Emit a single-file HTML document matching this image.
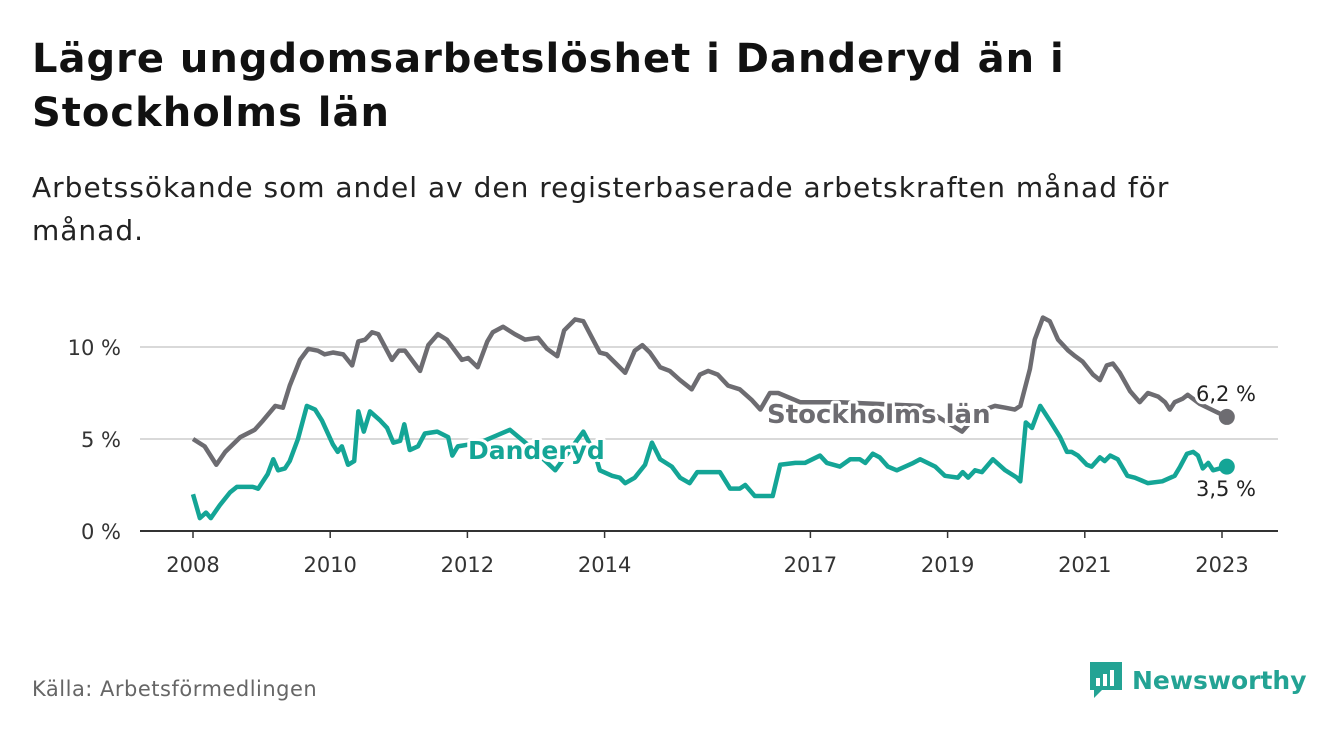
<!DOCTYPE html>
<html><head><meta charset="utf-8"><style>
body{margin:0;width:1340px;height:734px;background:#fff;font-family:"DejaVu Sans","Liberation Sans",sans-serif;overflow:hidden;position:relative}
.t{position:absolute;left:32px;top:32px;font-size:40px;font-weight:bold;line-height:54px;color:#111;letter-spacing:1px}
.s{position:absolute;left:32px;top:166px;font-size:28px;line-height:43px;color:#222;letter-spacing:1px}
.src{position:absolute;left:32px;top:677px;font-size:21px;color:#666;letter-spacing:0.5px}
.logo{position:absolute;left:1088px;top:660px;display:flex;align-items:center;gap:8px;color:#23a394;font-size:25px;font-weight:bold}
</style></head><body>
<div class="t">Lägre ungdomsarbetslöshet i Danderyd än i<br>Stockholms län</div>
<div class="s">Arbetssökande som andel av den registerbaserade arbetskraften månad för<br>månad.</div>
<svg id="c" width="1340" height="734" style="position:absolute;left:0;top:0"></svg>
<div class="src">Källa: Arbetsförmedlingen</div>
<div class="logo"><svg width="36" height="40"><path d="M2 2h32v28H14l-8 8v-8H2z" fill="#23a394"/><rect x="8" y="18" width="4" height="8" fill="#fff"/><rect x="15" y="14" width="4" height="12" fill="#fff"/><rect x="22" y="10" width="4" height="16" fill="#fff"/></svg><span>Newsworthy</span></div>
<script>
const yTicks=[0,5,10];
const yTickLabels=["0 %","5 %","10 %"];
const xTicks=[2008,2010,2012,2014,2017,2019,2021,2023];
const stoDates=[2008.00,2008.17,2008.34,2008.47,2008.69,2008.90,2009.02,2009.20,2009.31,2009.41,2009.56,2009.68,2009.82,2009.92,2010.04,2010.19,2010.32,2010.41,2010.51,2010.61,2010.70,2010.90,2011.00,2011.09,2011.31,2011.43,2011.57,2011.70,2011.82,2011.92,2012.01,2012.15,2012.29,2012.37,2012.52,2012.69,2012.84,2013.03,2013.16,2013.31,2013.41,2013.57,2013.69,2013.93,2014.03,2014.30,2014.44,2014.55,2014.66,2014.81,2014.95,2015.10,2015.27,2015.39,2015.51,2015.65,2015.80,2015.97,2016.15,2016.27,2016.41,2016.53,2016.85,2017.43,2018.01,2018.60,2019.21,2019.47,2019.69,2019.84,2019.98,2020.06,2020.20,2020.27,2020.39,2020.49,2020.61,2020.76,2020.86,2020.97,2021.12,2021.22,2021.32,2021.41,2021.51,2021.66,2021.80,2021.92,2022.07,2022.17,2022.24,2022.31,2022.43,2022.50,2022.68,2022.90,2023.07];
const stoValues=[5.0,4.6,3.6,4.3,5.1,5.5,6.0,6.8,6.7,7.9,9.3,9.9,9.8,9.6,9.7,9.6,9.0,10.3,10.4,10.8,10.7,9.3,9.8,9.8,8.7,10.1,10.7,10.4,9.8,9.3,9.4,8.9,10.3,10.8,11.1,10.7,10.4,10.5,9.9,9.5,10.9,11.5,11.4,9.7,9.6,8.6,9.8,10.1,9.7,8.9,8.7,8.2,7.7,8.5,8.7,8.5,7.9,7.7,7.1,6.6,7.5,7.5,7.0,7.0,6.9,6.8,5.4,6.5,6.8,6.7,6.6,6.8,8.8,10.4,11.6,11.4,10.4,9.8,9.5,9.2,8.5,8.2,9.0,9.1,8.6,7.6,7.0,7.5,7.3,7.0,6.6,7.0,7.2,7.4,6.9,6.5,6.2];
const danDates=[2008.00,2008.10,2008.19,2008.26,2008.39,2008.54,2008.64,2008.87,2008.95,2009.09,2009.17,2009.24,2009.34,2009.41,2009.53,2009.66,2009.78,2009.88,2010.04,2010.11,2010.17,2010.26,2010.35,2010.41,2010.49,2010.58,2010.73,2010.83,2010.92,2011.02,2011.08,2011.16,2011.28,2011.38,2011.56,2011.72,2011.78,2011.86,2012.18,2012.62,2012.91,2013.28,2013.69,2013.86,2013.93,2014.11,2014.22,2014.30,2014.44,2014.59,2014.69,2014.81,2014.98,2015.10,2015.24,2015.35,2015.68,2015.83,2015.97,2016.05,2016.19,2016.45,2016.56,2016.78,2016.92,2017.14,2017.24,2017.43,2017.58,2017.72,2017.80,2017.91,2018.01,2018.13,2018.26,2018.50,2018.60,2018.82,2018.96,2019.15,2019.22,2019.30,2019.40,2019.50,2019.66,2019.84,2020.01,2020.06,2020.14,2020.23,2020.35,2020.49,2020.64,2020.74,2020.81,2020.90,2021.03,2021.10,2021.22,2021.29,2021.37,2021.48,2021.62,2021.73,2021.92,2022.13,2022.31,2022.39,2022.49,2022.58,2022.65,2022.72,2022.80,2022.87,2023.07];
const danValues=[2.0,0.7,1.0,0.7,1.4,2.1,2.4,2.4,2.3,3.1,3.9,3.3,3.4,3.8,5.0,6.8,6.6,6.0,4.7,4.3,4.6,3.6,3.8,6.5,5.4,6.5,6.0,5.6,4.8,4.9,5.8,4.4,4.6,5.3,5.4,5.1,4.1,4.6,4.8,5.5,4.6,3.3,5.4,4.2,3.3,3.0,2.9,2.6,2.9,3.6,4.8,3.9,3.5,2.9,2.6,3.2,3.2,2.3,2.3,2.5,1.9,1.9,3.6,3.7,3.7,4.1,3.7,3.5,3.9,3.9,3.7,4.2,4.0,3.5,3.3,3.7,3.9,3.5,3.0,2.9,3.2,2.9,3.3,3.2,3.9,3.3,2.9,2.7,5.9,5.6,6.8,6.0,5.1,4.3,4.3,4.1,3.6,3.5,4.0,3.8,4.1,3.9,3.0,2.9,2.6,2.7,3.0,3.5,4.2,4.3,4.1,3.4,3.7,3.3,3.5];
const NS="http://www.w3.org/2000/svg",svg=document.getElementById('c');
const X=d=>193+(d-2008)*68.6, Y=v=>531-v*18.4;
function mk(t,a){const e=document.createElementNS(NS,t);for(const k in a)e.setAttribute(k,a[k]);svg.appendChild(e);return e;}
yTicks.forEach((v,i)=>{
 const g=mk('line',{x1:140,x2:1278,y1:Y(v),y2:Y(v),stroke:v?'#d9d9d9':'#333','stroke-width':2});
 
 
 const t=mk('text',{x:121,y:Y(v)+8,'text-anchor':'end','font-size':21,fill:'#333'});t.textContent=yTickLabels[i];
 
 
});
xTicks.forEach(y=>{
 const l=mk('line',{x1:X(y),x2:X(y),y1:531,y2:538,stroke:'#333','stroke-width':1.5});
 
 
 const t=mk('text',{x:X(y),y:572,'text-anchor':'middle','font-size':21,fill:'#333'});t.textContent=y;
 
 
});
function line(d,v,c,n){
 const p=mk('polyline',{points:d.map((x,i)=>X(x)+','+Y(v[i])).join(' '),fill:'none',stroke:c,'stroke-width':4.5,'stroke-linejoin':'round'});
 
 
 const c2=mk('circle',{cx:X(d[d.length-1]),cy:Y(v[v.length-1]),r:8,fill:c});
 
 
}
line(stoDates,stoValues,'#6d6c71','stockholm-line');
line(danDates,danValues,'#14a596','danderyd-line');
function lab(x,y,s,c,fs,w,n,anchor){
 const t=mk('text',{x:x,y:y,'font-size':fs,'font-weight':w,fill:c,stroke:'#fff','stroke-width':6,'paint-order':'stroke','stroke-linejoin':'round','text-anchor':anchor||'start'});t.textContent=s;
 
 
}
lab(767,423,'Stockholms län','#6d6c71',26,'bold','stockholm-label');
lab(468,459,'Danderyd','#14a596',25,'bold','danderyd-label');
lab(1226,401,'6,2 %','#222',21,'normal','stockholm-end-value','middle');
lab(1226,496,'3,5 %','#222',21,'normal','danderyd-end-value','middle');
</script>
</body></html>
